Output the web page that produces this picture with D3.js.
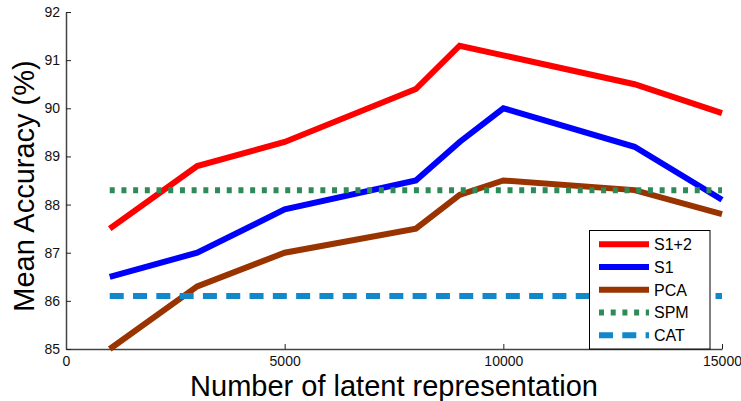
<!DOCTYPE html>
<html>
<head>
<meta charset="utf-8">
<script src="https://cdn.jsdelivr.net/npm/d3@7"></script>
<style>
  body { margin: 0; background: #fff; }
  svg { display: block; font-family: Arial, "Liberation Sans", sans-serif; }
</style>
</head>
<body>
<svg id="chart"></svg>
<script>
// latent representation sizes
const sizes = [1000, 3000, 5000, 8000, 9000, 10000, 13000, 15000];
const s12 = [87.5, 88.8, 89.3, 90.4, 91.3, 91.1, 90.5, 89.9];
const s1 = [86.5, 87.0, 87.9, 88.5, 89.3, 90.0, 89.2, 88.1];
const pca = [85.0, 86.3, 87.0, 87.5, 88.2, 88.5, 88.3, 87.8];
const spm = 88.3; // flat baseline
const cat = 86.1; // flat baseline
const xTicks = [0, 5000, 10000, 15000];
const yTicks = [85, 86, 87, 88, 89, 90, 91, 92];
const names = ["S1+2", "S1", "PCA", "SPM", "CAT"];

const width = 741, height = 401;
const margin = { top: 12, right: 19, bottom: 52, left: 66 };

const svg = d3.select("#chart").attr("width", width).attr("height", height);

const x = d3.scaleLinear().domain([0, 15000]).range([margin.left, width - margin.right]);
const y = d3.scaleLinear().domain([85, 92]).range([height - margin.bottom, margin.top]);

// axes (ticks point inward like matlab)
const xAxis = svg.append("g")
  .attr("transform", `translate(0,${height - margin.bottom})`)
  .call(d3.axisBottom(x).tickValues(xTicks).tickFormat(d3.format("d"))
    .tickSizeInner(-5).tickSizeOuter(0).tickPadding(8));
const yAxis = svg.append("g")
  .attr("transform", `translate(${margin.left},0)`)
  .call(d3.axisLeft(y).tickValues(yTicks).tickFormat(d3.format("d"))
    .tickSizeInner(-5).tickSizeOuter(0).tickPadding(6));

[xAxis, yAxis].forEach((g) => {
  g.select(".domain").attr("stroke", "#444").attr("stroke-width", 1.5);
  g.selectAll(".tick line").attr("stroke", "#222");
  g.selectAll("text").style("font-size", "14px").attr("fill", "#111");
});
xAxis.selectAll(".tick text").attr("dy", "0.65em");

// lines
const line = d3.line().x((d, i) => x(sizes[i])).y((d) => y(d));
const series = [
  { vals: s12, color: "#ff0000" },
  { vals: s1, color: "#0000ff" },
  { vals: pca, color: "#993300" },
];

series.forEach((s) => {
  svg.append("path")
    .datum(s.vals)
    .attr("fill", "none")
    .attr("stroke", s.color)
    .attr("stroke-width", 6)
    .attr("stroke-linejoin", "miter")
    .attr("d", line);
});

const flat = [
  { v: spm, color: "#2e8b57", dash: "5,6.7" },
  { v: cat, color: "#1287c9", dash: "14,9.3" },
];
flat.forEach((f) => {
  svg.append("line")
    .attr("x1", x(sizes[0])).attr("x2", x(sizes[sizes.length - 1]))
    .attr("y1", y(f.v)).attr("y2", y(f.v))
    .attr("stroke", f.color)
    .attr("stroke-width", 6)
    .attr("stroke-dasharray", f.dash);
});

// axis titles
svg.append("text")
  .attr("x", 394).attr("y", 396)
  .attr("text-anchor", "middle")
  .style("font-size", "29px")
  .attr("fill", "#000")
  .text("Number of latent representation");

svg.append("text")
  .attr("transform", "rotate(-90)")
  .attr("x", -186).attr("y", 34)
  .attr("text-anchor", "middle")
  .style("font-size", "29px")
  .attr("fill", "#000")
  .text("Mean Accuracy (%)");

// legend
const lg = svg.append("g");
lg.append("rect")
  .attr("x", 589.5).attr("y", 230.5)
  .attr("width", 120.5).attr("height", 118.5)
  .attr("fill", "#fff").attr("stroke", "#000").attr("stroke-width", 1);

const legendStyles = [
  { color: "#ff0000", dash: null },
  { color: "#0000ff", dash: null },
  { color: "#993300", dash: null },
  { color: "#2e8b57", dash: "5,6.7" },
  { color: "#1287c9", dash: "14,9.3" },
];
names.forEach((n, i) => {
  const yy = 244.3 + i * 22.75;
  lg.append("line")
    .attr("x1", 599).attr("x2", 649)
    .attr("y1", yy).attr("y2", yy)
    .attr("stroke", legendStyles[i].color)
    .attr("stroke-width", 6)
    .attr("stroke-dasharray", legendStyles[i].dash);
  lg.append("text")
    .attr("x", 654).attr("y", yy)
    .attr("dy", "0.36em")
    .style("font-size", "16px")
    .attr("fill", "#000")
    .text(n);
});
</script>
</body>
</html>
